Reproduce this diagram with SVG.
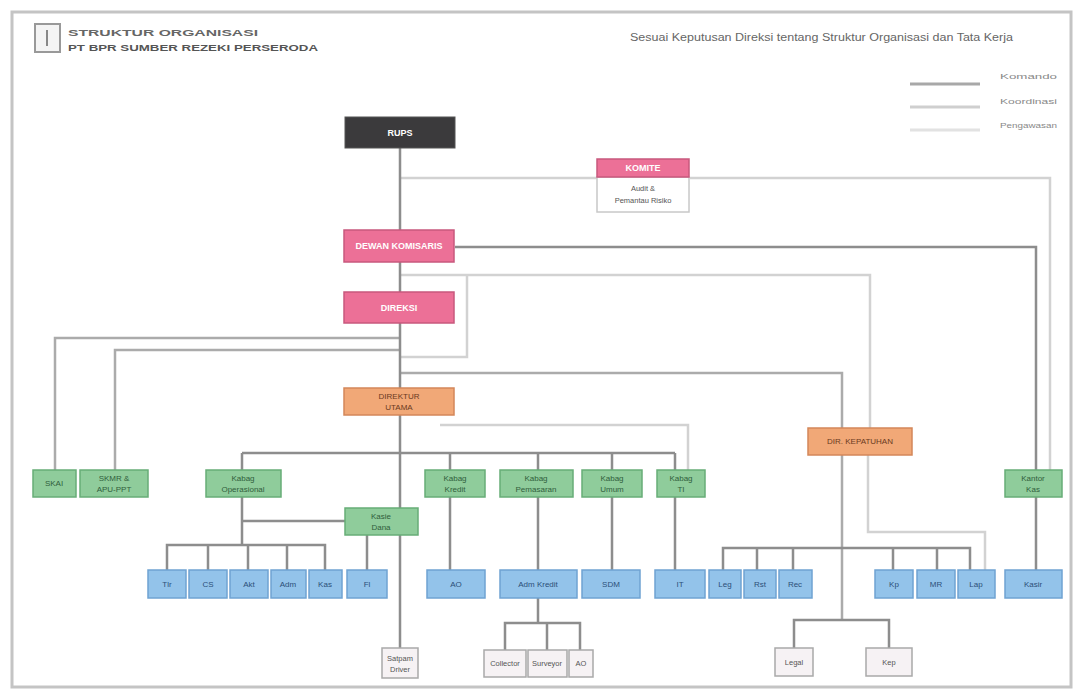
<svg xmlns="http://www.w3.org/2000/svg" width="1083" height="694" viewBox="0 0 1083 694">
<style>
text{font-family:"Liberation Sans",Arial,sans-serif}
.dk{fill:#3b3a3c;stroke:#555}
.pk{fill:#ec7097;stroke:#c8587d;stroke-width:1.5}
.or{fill:#f1a877;stroke:#d3875a;stroke-width:1.5}
.gr{fill:#8fcc9b;stroke:#67ad77;stroke-width:1.5}
.bl{fill:#93c3ea;stroke:#6fa3d2;stroke-width:1.5}
.wt{fill:#f6f2f4;stroke:#a9a9a9;stroke-width:1.5}
.tw{fill:#fff;font-size:9px;text-anchor:middle;font-weight:bold}
.tg{fill:#2f5e3b;font-size:8px;text-anchor:middle}
.tb{fill:#2c4f78;font-size:8px;text-anchor:middle}
.to{fill:#6a3a1e;font-size:8px;text-anchor:middle}
.tt{fill:#555;font-size:7.5px;text-anchor:middle}
.c1{stroke:#8d8d8d;stroke-width:2.5;fill:none}
.c2{stroke:#d2d2d2;stroke-width:2.5;fill:none}
.c3{stroke:#ababab;stroke-width:2.5;fill:none}
</style>
<rect x="0" y="0" width="1083" height="694" fill="#fff"/>
<rect x="12" y="12" width="1059" height="675" fill="none" stroke="#c4c4c4" stroke-width="3"/>
<g id="title">
<rect x="35" y="24" width="25" height="28" fill="#f4f4f4" stroke="#999" stroke-width="2"/>
<line x1="47" y1="30" x2="47" y2="46" stroke="#888" stroke-width="2"/>
<text x="68" y="36" font-size="9.5" fill="#666" font-weight="bold" textLength="190" lengthAdjust="spacingAndGlyphs">STRUKTUR ORGANISASI</text>
<text x="68" y="51" font-size="9.5" fill="#555" font-weight="bold" textLength="250" lengthAdjust="spacingAndGlyphs">PT BPR SUMBER REZEKI PERSERODA</text>
</g>
<text x="630" y="41" font-size="10" fill="#666" textLength="383" lengthAdjust="spacingAndGlyphs">Sesuai Keputusan Direksi tentang Struktur Organisasi dan Tata Kerja</text>
<g id="legend">
<line x1="910" y1="84" x2="980" y2="84" stroke="#a8a8a8" stroke-width="3"/>
<line x1="910" y1="107" x2="980" y2="107" stroke="#cfcfcf" stroke-width="3"/>
<line x1="910" y1="130" x2="980" y2="130" stroke="#e2e2e2" stroke-width="3"/>
<text x="1000" y="79" font-size="8" fill="#888" textLength="57" lengthAdjust="spacingAndGlyphs">Komando</text>
<text x="1000" y="104" font-size="8" fill="#888" textLength="57" lengthAdjust="spacingAndGlyphs">Koordinasi</text>
<text x="1000" y="128" font-size="8" fill="#888" textLength="57" lengthAdjust="spacingAndGlyphs">Pengawasan</text>
</g>
<g id="connectors">
<path class="c2" d="M400 178H597M690 178H1050V470"/>
<path class="c2" d="M400 275H870V428"/>
<path class="c2" d="M400 357H467V275"/>
<path class="c2" d="M440 425H688V470"/>
<path class="c2" d="M868 455V532H985V570"/>
<path class="c3" d="M400 338H55V470M400 350H115V470"/>
<path class="c3" d="M400 373H842V620"/>
<path class="c1" d="M400 148V648"/>
<path class="c1" d="M455 247H1036V570"/>
<path class="c1" d="M794 648V620H889V648"/>
<path class="c1" d="M242 453H675"/>
<path class="c1" d="M242 453V545M242 521H345"/>
<path class="c1" d="M167 570V545H325V570M208 545V570M248 545V570M287 545V570"/>
<path class="c1" d="M367 535V570"/>
<path class="c1" d="M450 453V570M538 453V623M612 453V570M675 453V570"/>
<path class="c1" d="M505 650V623H580V650M547 623V650"/>
<path class="c1" d="M723 570V548H970V570M757 548V570M793 548V570M893 548V570M937 548V570"/>
</g>
<g id="rups"><rect class="dk" x="345" y="117" width="110" height="31"/><text class="tw" x="400" y="136" fill="#eadde4">RUPS</text></g>
<g id="komite"><rect x="597" y="177" width="92" height="35" fill="#fff" stroke="#c8c8c8" stroke-width="1.5"/><rect class="pk" x="597" y="159" width="92" height="18"/><text class="tw" x="643" y="171" font-size="8">KOMITE</text><text class="tt" x="643" y="191" fill="#999">Audit &amp;</text><text class="tt" x="643" y="203" fill="#999">Pemantau Risiko</text></g>
<g id="komisaris"><rect class="pk" x="344" y="230" width="110" height="32"/><text class="tw" x="399" y="249">DEWAN KOMISARIS</text></g>
<g id="direksi"><rect class="pk" x="344" y="292" width="110" height="31"/><text class="tw" x="399" y="311">DIREKSI</text></g>
<g id="dirut"><rect class="or" x="344" y="388" width="110" height="27"/><text class="to" x="399" y="399">DIREKTUR</text><text class="to" x="399" y="410">UTAMA</text></g>
<g id="dirkep"><rect class="or" x="808" y="428" width="104" height="27"/><text class="to" x="860" y="444">DIR. KEPATUHAN</text></g>
<g id="skai"><rect class="gr" x="33" y="470" width="43" height="27"/><text class="tg" x="54" y="486">SKAI</text></g>
<g id="skmr"><rect class="gr" x="80" y="470" width="68" height="27"/><text class="tg" x="114" y="481">SKMR &amp;</text><text class="tg" x="114" y="492">APU-PPT</text></g>
<g id="ops"><rect class="gr" x="206" y="470" width="75" height="27"/><text class="tg" x="243" y="481">Kabag</text><text class="tg" x="243" y="492">Operasional</text></g>
<g id="dana"><rect class="gr" x="345" y="508" width="73" height="27"/><text class="tg" x="381" y="519">Kasie</text><text class="tg" x="381" y="530">Dana</text></g>
<g id="kredit"><rect class="gr" x="425" y="470" width="60" height="27"/><text class="tg" x="455" y="481">Kabag</text><text class="tg" x="455" y="492">Kredit</text></g>
<g id="pemasaran"><rect class="gr" x="500" y="470" width="73" height="27"/><text class="tg" x="536" y="481">Kabag</text><text class="tg" x="536" y="492">Pemasaran</text></g>
<g id="umum"><rect class="gr" x="582" y="470" width="60" height="27"/><text class="tg" x="612" y="481">Kabag</text><text class="tg" x="612" y="492">Umum</text></g>
<g id="ti"><rect class="gr" x="657" y="470" width="48" height="27"/><text class="tg" x="681" y="481">Kabag</text><text class="tg" x="681" y="492">TI</text></g>
<g id="kas"><rect class="gr" x="1005" y="470" width="57" height="27"/><text class="tg" x="1033" y="481">Kantor</text><text class="tg" x="1033" y="492">Kas</text></g>
<g id="b1"><rect class="bl" x="148" y="570" width="38" height="28"/><text class="tb" x="167" y="587">Tlr</text></g>
<g id="b2"><rect class="bl" x="189" y="570" width="38" height="28"/><text class="tb" x="208" y="587">CS</text></g>
<g id="b3"><rect class="bl" x="230" y="570" width="38" height="28"/><text class="tb" x="249" y="587">Akt</text></g>
<g id="b4"><rect class="bl" x="271" y="570" width="35" height="28"/><text class="tb" x="288" y="587">Adm</text></g>
<g id="b5"><rect class="bl" x="309" y="570" width="33" height="28"/><text class="tb" x="325" y="587">Kas</text></g>
<g id="b6"><rect class="bl" x="347" y="570" width="40" height="28"/><text class="tb" x="367" y="587">Fl</text></g>
<g id="b7"><rect class="bl" x="427" y="570" width="58" height="28"/><text class="tb" x="456" y="587">AO</text></g>
<g id="b8"><rect class="bl" x="500" y="570" width="77" height="28"/><text class="tb" x="538" y="587">Adm Kredit</text></g>
<g id="b9"><rect class="bl" x="582" y="570" width="58" height="28"/><text class="tb" x="611" y="587">SDM</text></g>
<g id="b10"><rect class="bl" x="655" y="570" width="50" height="28"/><text class="tb" x="680" y="587">IT</text></g>
<g id="b11"><rect class="bl" x="709" y="570" width="32" height="28"/><text class="tb" x="725" y="587">Leg</text></g>
<g id="b12"><rect class="bl" x="744" y="570" width="32" height="28"/><text class="tb" x="760" y="587">Rst</text></g>
<g id="b13"><rect class="bl" x="779" y="570" width="33" height="28"/><text class="tb" x="795" y="587">Rec</text></g>
<g id="b14"><rect class="bl" x="875" y="570" width="38" height="28"/><text class="tb" x="894" y="587">Kp</text></g>
<g id="b15"><rect class="bl" x="917" y="570" width="38" height="28"/><text class="tb" x="936" y="587">MR</text></g>
<g id="b16"><rect class="bl" x="958" y="570" width="37" height="28"/><text class="tb" x="976" y="587">Lap</text></g>
<g id="b17"><rect class="bl" x="1005" y="570" width="57" height="28"/><text class="tb" x="1033" y="587">Kasir</text></g>
<g id="n1"><rect class="wt" x="382" y="648" width="36" height="30"/><text class="tt" x="400" y="661">Satpam</text><text class="tt" x="400" y="672">Driver</text></g>
<g id="n2"><rect class="wt" x="484" y="650" width="42" height="27"/><text class="tt" x="505" y="666">Collector</text></g>
<g id="n3"><rect class="wt" x="528" y="650" width="39" height="27"/><text class="tt" x="547" y="666">Surveyor</text></g>
<g id="n4"><rect class="wt" x="569" y="650" width="24" height="27"/><text class="tt" x="581" y="666">AO</text></g>
<g id="n5"><rect class="wt" x="775" y="648" width="38" height="28"/><text class="tt" x="794" y="665">Legal</text></g>
<g id="n6"><rect class="wt" x="866" y="648" width="46" height="28"/><text class="tt" x="889" y="665">Kep</text></g>
</svg>
